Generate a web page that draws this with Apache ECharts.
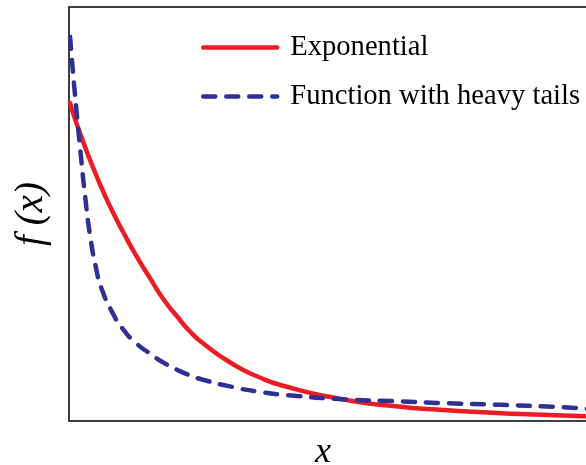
<!DOCTYPE html>
<html>
<head>
<meta charset="utf-8">
<script src="https://cdn.jsdelivr.net/npm/echarts@6/dist/echarts.min.js"></script>
<style>html,body{margin:0;padding:0;background:#fff;}#c{width:586px;height:465px;}</style>
</head>
<body>
<div id="c"></div>
<script>
const xValues = [0.02, 0.05, 0.1, 0.15, 0.2, 0.3, 0.4, 0.5, 0.6, 0.8, 1.0, 1.25, 1.5, 1.75, 2, 2.25, 2.5, 3, 3.5, 4, 5, 6, 7, 8, 9, 9.7];
const expValues = [0.768, 0.754, 0.734, 0.715, 0.697, 0.661, 0.627, 0.595, 0.564, 0.508, 0.457, 0.398, 0.345, 0.294, 0.253, 0.215, 0.186, 0.140, 0.107, 0.084, 0.054, 0.036, 0.026, 0.019, 0.014, 0.011];
const heavyValues = [0.928, 0.879, 0.804, 0.734, 0.667, 0.541, 0.440, 0.370, 0.321, 0.263, 0.222, 0.187, 0.163, 0.141, 0.124, 0.110, 0.099, 0.083, 0.071, 0.063, 0.053, 0.048, 0.043, 0.039, 0.034, 0.029];
const seriesNames = ['Exponential', 'Function with heavy tails'];

const font = "'Liberation Serif', 'Times New Roman', serif";
const chart = echarts.init(document.getElementById('c'), null, {renderer: 'canvas'});
chart.setOption({
  animation: false,
  backgroundColor: '#fff',
  grid: {left: 69, top: 7, width: 540, height: 414, outerBoundsMode: 'none', containLabel: false,
         show: true, borderColor: '#000', borderWidth: 1.5, backgroundColor: 'transparent'},
  xAxis: {
    type: 'value', min: 0, max: 10,
    name: 'x', nameLocation: 'middle', nameGap: 14,
    nameTextStyle: {fontFamily: font, fontStyle: 'italic', fontSize: 36, color: '#000', padding: [0, 32, 0, 0]},
    axisLine: {show: false}, axisTick: {show: false}, axisLabel: {show: false}, splitLine: {show: false}
  },
  yAxis: {
    type: 'value', min: 0, max: 1,
    name: 'f (x)', nameLocation: 'middle', nameGap: 18,
    nameTextStyle: {fontFamily: font, fontStyle: 'italic', fontSize: 39, color: '#000'},
    axisLine: {show: false}, axisTick: {show: false}, axisLabel: {show: false}, splitLine: {show: false}
  },
  legend: {
    orient: 'vertical', left: 196, top: 28, itemWidth: 74, itemHeight: 14, itemGap: 20,
    itemStyle: {opacity: 0, color: 'transparent', borderWidth: 0},
    lineStyle: {width: 4.5, cap: 'round'},
    textStyle: {fontFamily: font, fontSize: 28.6, color: '#000', padding: [0, 0, 0, 8]},
    data: seriesNames
  },
  series: [
    {
      name: seriesNames[0], type: 'line', symbol: 'none', smooth: 0.6,
      data: xValues.map((x, i) => [x, expValues[i]]),
      lineStyle: {color: '#ED1C24', width: 4.5, cap: 'round', join: 'round'},
      itemStyle: {color: '#ED1C24'}
    },
    {
      name: seriesNames[1], type: 'line', symbol: 'none', smooth: 0.6,
      data: xValues.map((x, i) => [x, heavyValues[i]]),
      lineStyle: {color: '#2E3192', width: 4.5, type: [12, 11], cap: 'round', join: 'round'},
      itemStyle: {color: '#2E3192'}
    }
  ]
});
</script>
</body>
</html>
